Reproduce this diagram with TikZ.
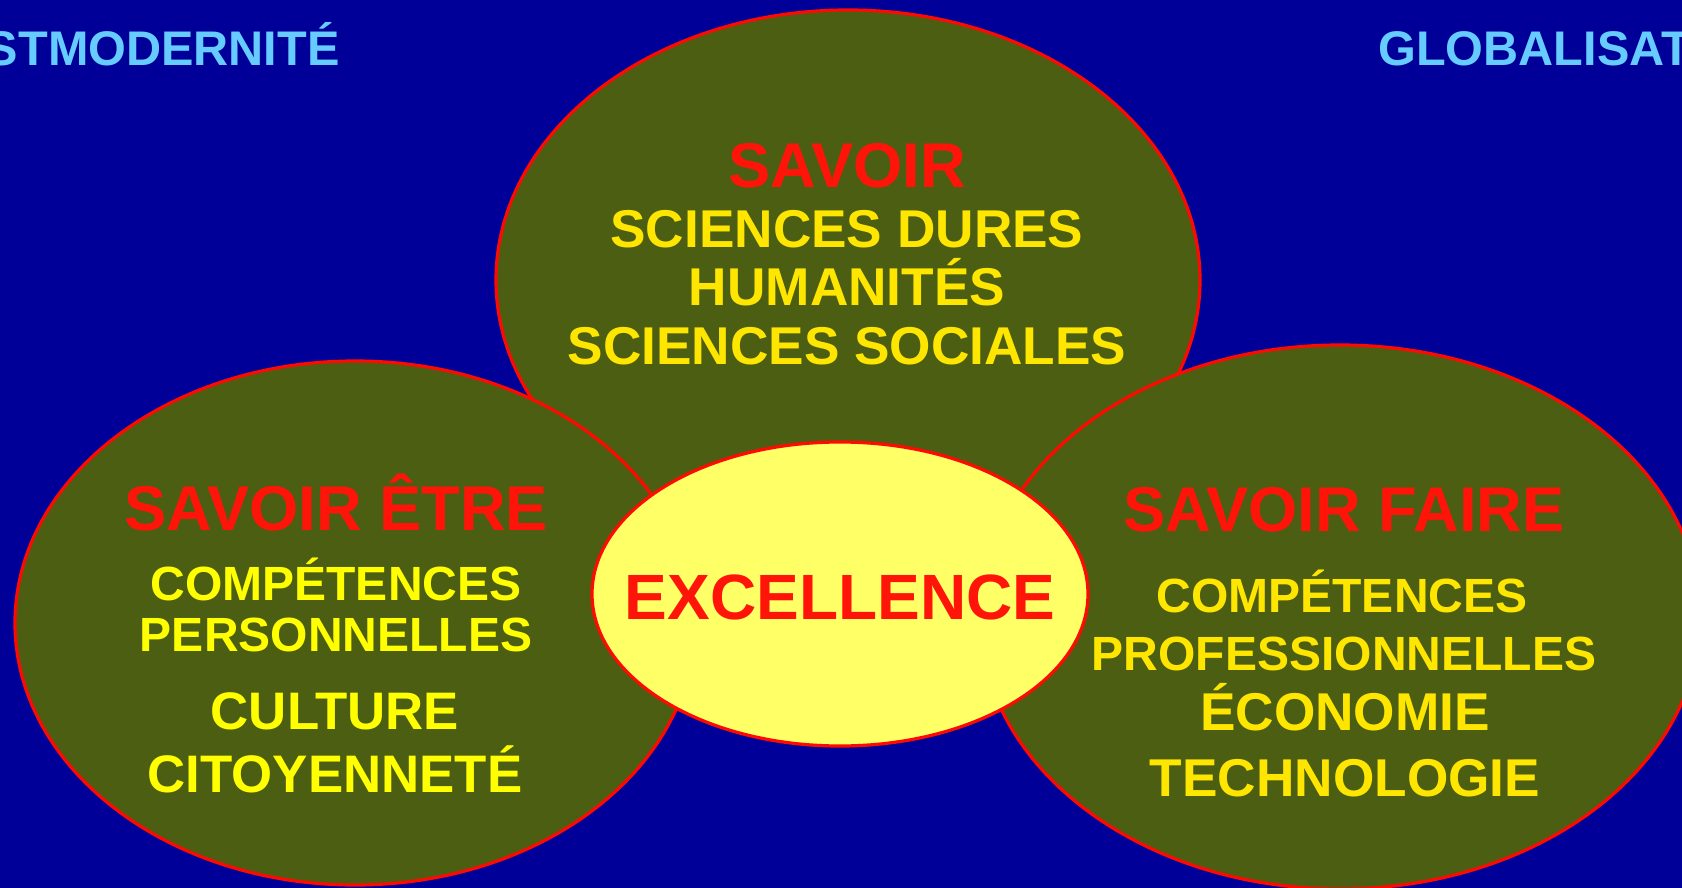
\documentclass[tikz,border=0pt]{standalone}
\usepackage{fontspec}
\setmainfont{Liberation Sans}
\usetikzlibrary{shapes.geometric}
\definecolor{bgblue}{HTML}{000099}
\definecolor{olivefill}{HTML}{4C5E12}
\definecolor{bordred}{HTML}{FF0A00}
\definecolor{titlered}{HTML}{FF140A}
\definecolor{itemgold}{HTML}{FFE600}
\definecolor{itemyel}{HTML}{FFFF00}
\definecolor{centerfill}{HTML}{FFFF66}
\definecolor{headblue}{HTML}{66CCFF}
\tikzset{
  blob/.style={ellipse, draw=bordred, line width=1.6pt, fill=olivefill, inner sep=0pt},
  hub/.style={ellipse, draw=bordred, line width=1.6pt, fill=centerfill, inner sep=0pt},
  ttl/.style={anchor=base, inner sep=0pt, text=titlered, font=\fontsize{31.6}{31.6}\selectfont\bfseries},
  itm/.style={anchor=base, inner sep=0pt, text=itemgold, font=\fontsize{26.6}{26.6}\selectfont\bfseries},
  itms/.style={anchor=base, inner sep=0pt, text=itemgold, font=\fontsize{24}{24}\selectfont\bfseries},
  head/.style={inner sep=0pt, text=headblue, font=\fontsize{24.3}{24.3}\selectfont\bfseries},
}
\begin{document}
\begin{tikzpicture}[x=0.5pt, y=-0.5pt]
\useasboundingbox (0,0) rectangle (1682,888);
\clip (0,0) rectangle (1682,888);
\fill[bgblue] (0,0) rectangle (1682,888);

% headers (as cut by the picture's edges)
\node[head, anchor=base east] (post) at (340,66) {STMODERNITÉ};
\node[head, anchor=base west] (glob) at (1378,66) {GLOBALISAT};

% ellipses
\node[blob, minimum width=352pt, minimum height=270pt] (savoir) at (848,280) {};
\node[blob, minimum width=340pt, minimum height=262pt] (etre) at (355,623) {};
\node[blob, minimum width=360pt, minimum height=272pt] (faire) at (1340,617) {};
\node[hub, minimum width=248pt, minimum height=152pt] (exc) at (840,594) {};

% top texts
\node[ttl] (t1) at (847,187) {SAVOIR};
\node[itm] (t2) at (847,247) {SCIENCES DURES};
\node[itm] (t3) at (847,305) {HUMANITÉS};
\node[itm] (t4) at (847,364) {SCIENCES SOCIALES};

% left texts
\node[ttl] (l1) at (336,530) {SAVOIR ÊTRE};
\node[itms, text=itemyel] (l2) at (336,600) {COMPÉTENCES};
\node[itms, text=itemyel] (l3) at (336,651) {PERSONNELLES};
\node[itm, text=itemyel, font=\fontsize{26.4}{26.4}\selectfont\bfseries] (l4) at (335,729) {CULTURE};
\node[itm, text=itemyel, font=\fontsize{26.4}{26.4}\selectfont\bfseries] (l5) at (335,792) {CITOYENNETÉ};

% right texts
\node[ttl] (r1) at (1344,531) {SAVOIR FAIRE};
\node[itms] (r2) at (1342,612) {COMPÉTENCES};
\node[itms] (r3) at (1344,670) {PROFESSIONNELLES};
\node[itm] (r4) at (1345,730) {ÉCONOMIE};
\node[itm] (r5) at (1345,796) {TECHNOLOGIE};

% center text
\node[ttl, font=\fontsize{32}{32}\selectfont\bfseries] (c1) at (840,619) {EXCELLENCE};
\end{tikzpicture}
\end{document}
